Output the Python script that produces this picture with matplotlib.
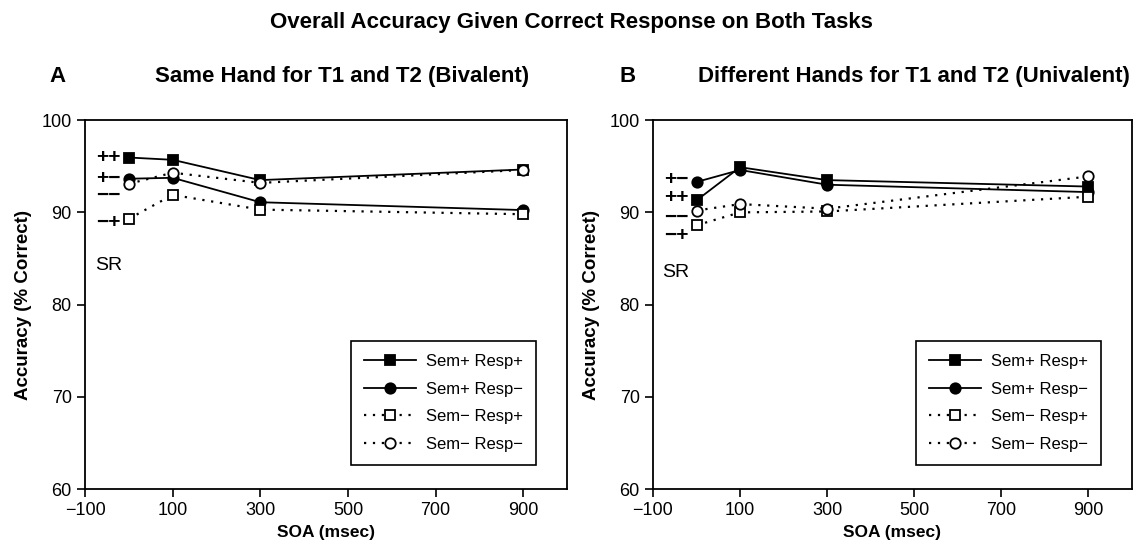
import matplotlib.pyplot as plt

plt.rcParams['font.family'] = ['Liberation Sans', 'DejaVu Sans']

soa = [0, 100, 300, 900]
labels = ['Sem+ Resp+', 'Sem+ Resp\u2212', 'Sem\u2212 Resp+', 'Sem\u2212 Resp\u2212']

# panel A: same hand (bivalent)
a_pp = [95.95, 95.7, 93.5, 94.65]
a_pm = [93.65, 93.75, 91.1, 90.25]
a_mp = [89.3, 91.9, 90.3, 89.8]
a_mm = [93.1, 94.3, 93.2, 94.6]

# panel B: different hands (univalent)
b_pp = [91.3, 94.9, 93.5, 92.8]
b_pm = [93.3, 94.6, 93.0, 92.2]
b_mp = [88.6, 90.0, 90.1, 91.7]
b_mm = [90.2, 90.9, 90.4, 93.9]

# single-response (SR) condition labels shown left of the curves
a_sr = [('++', 95.95), ('+\u2212', 93.7), ('\u2212\u2212', 91.8), ('\u2212+', 88.9)]
b_sr = [('+\u2212', 93.6), ('++', 91.6), ('\u2212\u2212', 89.5), ('\u2212+', 87.5)]

styles = [
    dict(ls='-', lw=1.3, marker='s', mfc='black'),
    dict(ls='-', lw=1.3, marker='o', mfc='black'),
    dict(ls=(0, (1, 3)), lw=1.6, marker='s', mfc='white'),
    dict(ls=(0, (1, 3)), lw=1.6, marker='o', mfc='white'),
]

fig = plt.figure(figsize=(11.43, 5.53), dpi=100)
axA = fig.add_axes([0.0744, 0.1157, 0.4217, 0.667])
axB = fig.add_axes([0.5713, 0.1157, 0.4190, 0.667])


def draw_panel(ax, series, sr_marks, sr_y):
    for y, lab, st in zip(series, labels, styles):
        ax.plot(soa, y, color='black', ms=7.5, mec='black', mew=1.3,
                label=lab, **st)
    for txt, y in sr_marks:
        ax.text(-47, y, txt, ha='center', va='center', fontsize=15,
                fontweight='bold')
    ax.text(-47, sr_y, 'SR', ha='center', va='center', fontsize=14)
    ax.set_xlim(-100, 1000)
    ax.set_ylim(60, 100)
    ax.set_xticks([-100, 100, 300, 500, 700, 900])
    ax.set_yticks([60, 70, 80, 90, 100])
    ax.tick_params(direction='out', length=6, width=1.2, labelsize=13)
    for sp in ax.spines.values():
        sp.set_linewidth(1.3)
    ax.set_xlabel('SOA (msec)', fontsize=12.5, fontweight='bold')
    ax.set_ylabel('Accuracy (% Correct)', fontsize=13.5, fontweight='bold',
                  labelpad=7)
    leg = ax.legend(loc='lower right', bbox_to_anchor=(0.936, 0.065),
                    borderaxespad=0, fontsize=12, handlelength=3.1,
                    labelspacing=0.75, fancybox=False, framealpha=1,
                    edgecolor='black', borderpad=0.8, handletextpad=0.6)
    leg.get_frame().set_linewidth(1.2)


draw_panel(axA, [a_pp, a_pm, a_mp, a_mm], a_sr, 84.2)
draw_panel(axB, [b_pp, b_pm, b_mp, b_mm], b_sr, 83.5)

fig.text(0.5, 0.96, 'Overall Accuracy Given Correct Response on Both Tasks',
         ha='center', va='center', fontsize=16, fontweight='bold')
fig.text(0.050, 0.862, 'A', ha='center', va='center', fontsize=16,
         fontweight='bold')
fig.text(0.299, 0.862, 'Same Hand for T1 and T2 (Bivalent)', ha='center',
         va='center', fontsize=16, fontweight='bold')
fig.text(0.549, 0.862, 'B', ha='center', va='center', fontsize=16,
         fontweight='bold')
fig.text(0.800, 0.862, 'Different Hands for T1 and T2 (Univalent)',
         ha='center', va='center', fontsize=16, fontweight='bold')

fig.savefig('out.png', dpi=100)
